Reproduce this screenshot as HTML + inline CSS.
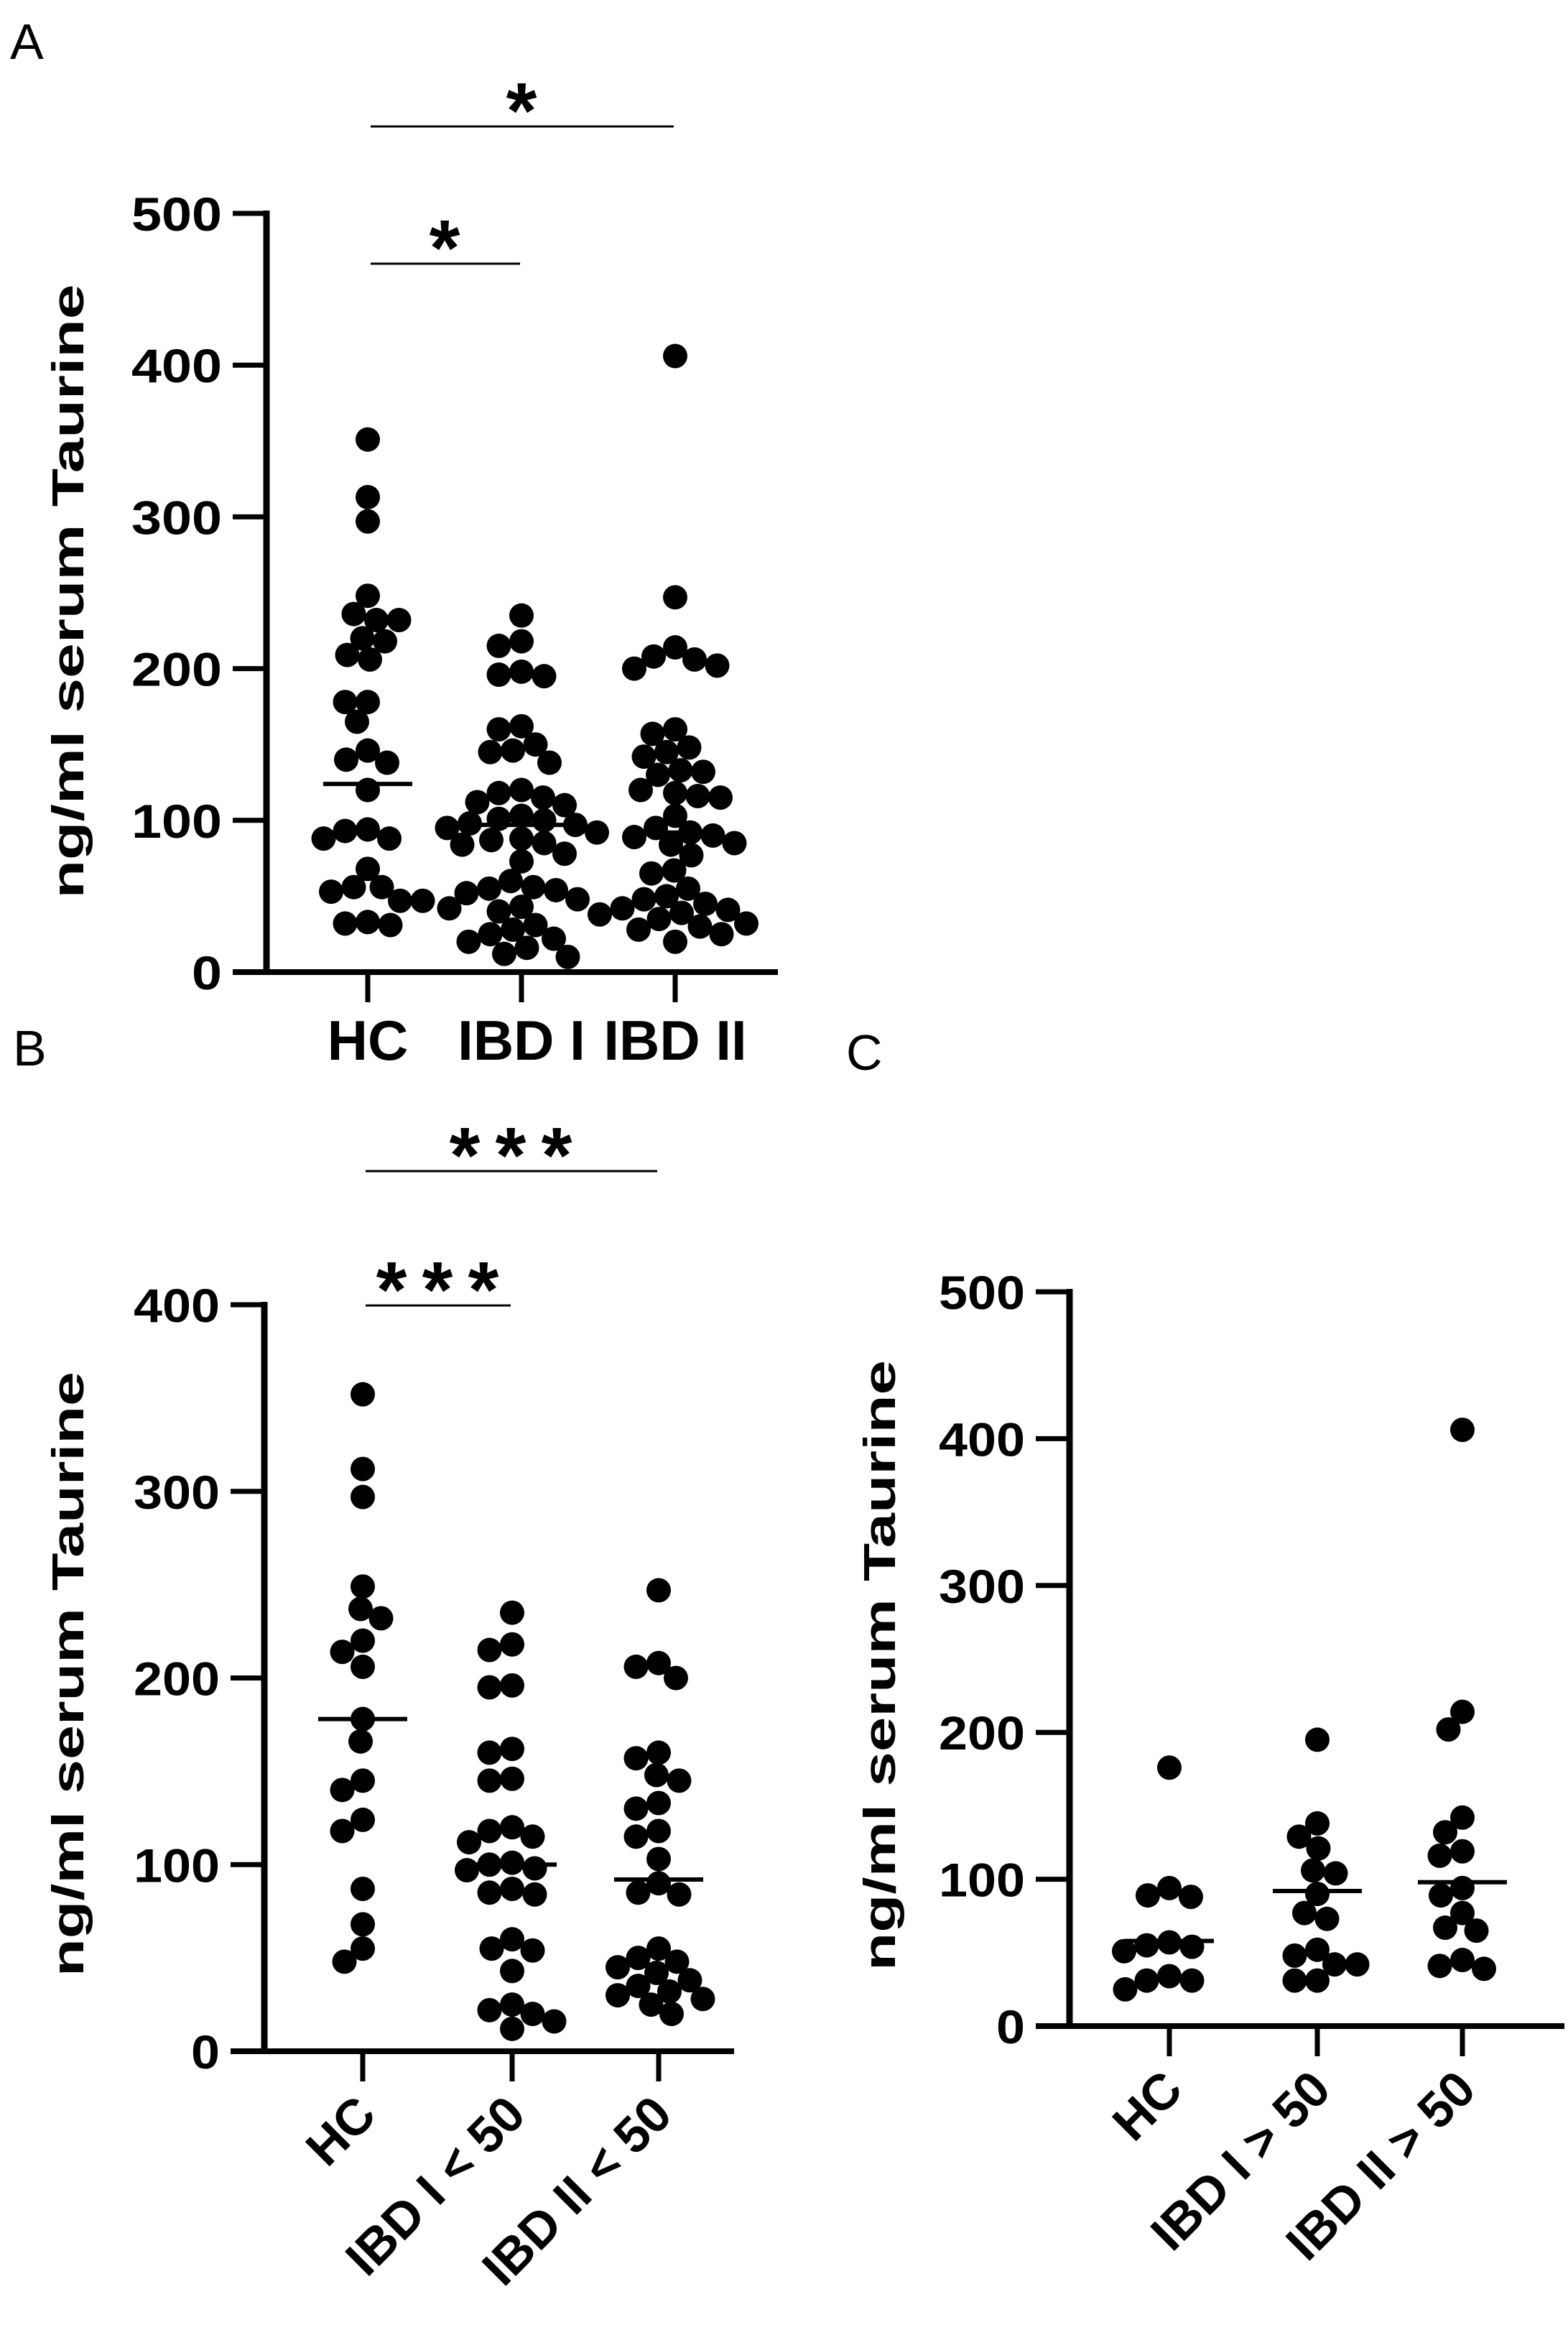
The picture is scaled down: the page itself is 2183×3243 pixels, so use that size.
<!DOCTYPE html>
<html><head><meta charset="utf-8"><title>Serum Taurine</title>
<style>html,body{margin:0;padding:0;background:#fff}svg{display:block}text{font-family:"Liberation Sans",Arial,sans-serif;fill:#000}</style>
</head><body>
<svg id="fig" width="2183" height="3243" viewBox="0 0 2183 3243" xmlns="http://www.w3.org/2000/svg">
<rect width="2183" height="3243" fill="#fff"/>
</svg>
<script>
// ---- Panel A data ----
const aCategories = ["HC", "IBD I", "IBD II"];
const aTicks = [0, 100, 200, 300, 400, 500];
const aHC = [351,313,297,248,236,232,232,220,218,209,206,178,178,165,146,140,138,120,94,93,88,88,68,56,56,53,47,47,33,32,31];
const aIBD1 = [235,218,215,198,195,196,162,160,150,146,145,138,120,118,115,112,110,103,101,100,98,97,95,92,88,87,85,84,78,73,60,56,55,54,52,48,43,42,40,31,28,25,22,20,16,12,10];
const aIBD2 = [406,247,214,208,206,202,200,160,157,148,145,142,133,132,130,120,118,116,115,103,95,92,90,89,85,84,77,67,65,55,50,48,45,42,41,39,38,35,32,30,28,25,20];
const aMeans = [124, 97, 92];
// ---- Panel B data ----
const bCategories = ["HC", "IBD I < 50", "IBD II < 50"];
const bTicks = [0, 100, 200, 300, 400];
const bHC = [352,312,297,249,237,232,220,214,206,178,166,145,140,124,118,87,68,55,48];
const bIBD1 = [235,218,215,196,195,162,160,146,145,120,118,115,112,101,100,98,97,87,85,84,60,55,54,43,25,22,20,16,12];
const bIBD2 = [247,208,206,200,160,157,148,145,133,130,118,115,103,90,85,84,55,50,48,45,42,38,35,32,30,28,25,20];
const bMeans = [178, 100, 92];
// ---- Panel C data ----
const cCategories = ["HC", "IBD I > 50", "IBD II > 50"];
const cTicks = [0, 100, 200, 300, 400, 500];
const cHC = [176,94,89,88,57,55,54,51,34,31,31,25];
const cIBD1 = [195,138,129,121,106,104,90,77,73,52,48,42,42,31,31];
const cIBD2 = [406,214,202,142,132,119,116,94,89,77,67,65,45,41,39];
const cMeans = [58, 92, 98];

const NS = "http://www.w3.org/2000/svg";
const svg = document.getElementById("fig");
function mk(tag, attrs, parent) {
  const el = document.createElementNS(NS, tag);
  for (const k in attrs) el.setAttribute(k, attrs[k]);
  (parent || svg).appendChild(el);
  return el;
}
function txt(str, attrs, parent) { const t = mk("text", attrs, parent); t.textContent = str; return t; }

function swarm(values, yOf, cx, r) {
  const placed = [];
  const order = values.map((v, i) => i).sort((i, j) => values[j] - values[i]);
  const minD = 2 * r * 0.92;
  for (const i of order) {
    const y = yOf(values[i]);
    let best = 0;
    for (let k = 0; k < 400; k++) {
      const off = (k % 2 === 0 ? 1 : -1) * Math.ceil(k / 2) * 1.5;
      let ok = true;
      for (const p of placed) {
        const dx = cx + off - p.x, dy = y - p.y;
        if (dx * dx + dy * dy < minD * minD) { ok = false; break; }
      }
      if (ok) { best = off; break; }
    }
    placed.push({ x: cx + best, y: y });
  }
  return placed;
}

function panel(cfg) {
  const g = mk("g", {});
  
  
  const yOf = v => cfg.y0 - (v / cfg.max) * (cfg.y0 - cfg.yTop);
  const L = txt(cfg.letter, { x: cfg.lx, y: cfg.ly, "font-size": 70 }, g);
  
  
  const ya = mk("line", { x1: cfg.ax, y1: cfg.yTop - 4, x2: cfg.ax, y2: cfg.y0 + 4, stroke: "#000", "stroke-width": 9 }, g);
  
  
  const xa = mk("line", { x1: cfg.ax - 47, y1: cfg.y0, x2: cfg.xEnd, y2: cfg.y0, stroke: "#000", "stroke-width": 8 }, g);
  
  
  cfg.ticks.forEach(t => {
    const y = yOf(t);
    if (t !== 0) {
      const tl = mk("line", { x1: cfg.ax - 47, y1: y, x2: cfg.ax, y2: y, stroke: "#000", "stroke-width": 7 }, g);
      
      
    }
    const s = String(t);
    const lab = txt(s, { x: cfg.ax - 62, y: y + 24, "font-size": 66, "font-weight": "bold", "text-anchor": "end", textLength: s.length * cfg.digitW, lengthAdjust: "spacingAndGlyphs" }, g);
    
    
  });
  const tt = txt("ng/ml serum Taurine", { x: 0, y: 0, "font-size": 62, "font-weight": "bold", "text-anchor": "middle", textLength: cfg.titleLen, lengthAdjust: "spacingAndGlyphs", transform: "translate(" + (cfg.titleX + 22) + "," + cfg.titleY + ") rotate(-90)" }, g);
  
  
  cfg.groups.forEach((vals, gi) => {
    const cx = cfg.xs[gi];
    const tk = mk("line", { x1: cx, y1: cfg.y0, x2: cx, y2: cfg.y0 + 42, stroke: "#000", "stroke-width": 7 }, g);
    
    
    const pts = swarm(vals, yOf, cx, cfg.r);
    pts.forEach(p => {
      const c = mk("circle", { cx: p.x, cy: p.y, r: cfg.r, fill: "#000" }, g);
      
      
    });
    const my = yOf(cfg.means[gi]);
    const ml = mk("line", { x1: cx - 62, y1: my, x2: cx + 62, y2: my, stroke: "#000", "stroke-width": 6 }, g);
    
    
    let lab;
    if (cfg.rotate) {
      lab = txt(cfg.cats[gi], { x: 0, y: 0, "font-size": 70, "font-weight": "bold", "text-anchor": "end", transform: "translate(" + (cx + 22) + "," + (cfg.y0 + 92) + ") rotate(-45)" }, g);
    } else {
      lab = txt(cfg.cats[gi], { x: cx, y: cfg.y0 + 122, "font-size": 78, "font-weight": "bold", "text-anchor": "middle" }, g);
    }
    
    
  });
  (cfg.sig || []).forEach(s => {
    const ln = mk("line", { x1: cfg.xs[s.a] + 4, y1: s.y, x2: cfg.xs[s.b] - 2, y2: s.y, stroke: "#000", "stroke-width": 3 }, g);
    
    
    const mid = (cfg.xs[s.a] + cfg.xs[s.b]) / 2;
    for (let k = 0; k < s.n; k++) {
      const sx = mid + (k - (s.n - 1) / 2) * 64;
      const st = txt("*", { x: sx, y: s.y + 16, "font-size": 110, "font-weight": "bold", "text-anchor": "middle" }, g);
      
      
    }
  });
}

panel({ name: "panel-a", letter: "A", lx: 14, ly: 82, ax: 371, yTop: 297, y0: 1353, max: 500, xEnd: 1083,
  xs: [512, 726, 940], ticks: aTicks, cats: aCategories, groups: [aHC, aIBD1, aIBD2], means: aMeans,
  r: 17, digitW: 42, titleX: 94, titleY: 823, titleLen: 855, rotate: false,
  sig: [{ a: 0, b: 2, y: 176, n: 1 }, { a: 0, b: 1, y: 367, n: 1 }] });
panel({ name: "panel-b", letter: "B", lx: 18, ly: 1483, ax: 368, yTop: 1816, y0: 2855, max: 400, xEnd: 1022,
  xs: [505, 713, 917], ticks: bTicks, cats: bCategories, groups: [bHC, bIBD1, bIBD2], means: bMeans,
  r: 17, digitW: 40, titleX: 94, titleY: 2330, titleLen: 842, rotate: true,
  sig: [{ a: 0, b: 2, y: 1630, n: 3 }, { a: 0, b: 1, y: 1817, n: 3 }] });
panel({ name: "panel-c", letter: "C", lx: 1178, ly: 1489, ax: 1489, yTop: 1798, y0: 2820, max: 500, xEnd: 2178,
  xs: [1628, 1834, 2036], ticks: cTicks, cats: cCategories, groups: [cHC, cIBD1, cIBD2], means: cMeans,
  r: 17, digitW: 40, titleX: 1224, titleY: 2318, titleLen: 850, rotate: true, sig: [] });
</script>
</body></html>
